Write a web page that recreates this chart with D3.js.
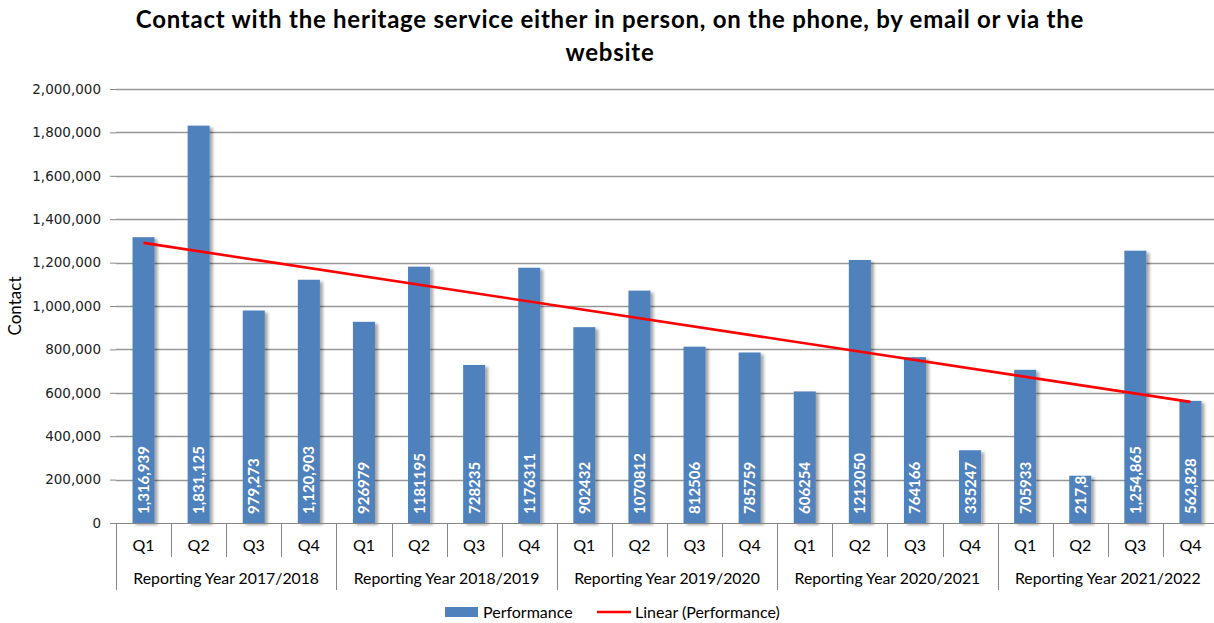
<!DOCTYPE html>
<html>
<head>
<meta charset="utf-8">
<script src="https://cdn.jsdelivr.net/npm/d3@7"></script>
<style>
  html, body { margin: 0; padding: 0; background: #ffffff; }
  svg { display: block; }
</style>
</head>
<body>
<svg id="chart" width="1214" height="623"></svg>
<script>
// Quarterly contact figures, grouped by reporting year
const years = ["Reporting Year 2017/2018", "Reporting Year 2018/2019", "Reporting Year 2019/2020",
               "Reporting Year 2020/2021", "Reporting Year 2021/2022"];
const quarters = ["Q1", "Q2", "Q3", "Q4"];
const performance = [
  1316939, 1831125, 979273, 1120903,
  926979, 1181195, 728235, 1176311,
  902432, 1070812, 812506, 785759,
  606254, 1212050, 764166, 335247,
  705933, 217850, 1254865, 562828
];
// Label text as printed on each bar (some years use thousands separators, some don't)
const barLabels = [
  "1,316,939", "1,831,125", "979,273", "1,120,903",
  "926979", "1181195", "728235", "1176311",
  "902432", "1070812", "812506", "785759",
  "606254", "1212050", "764166", "335247",
  "705933", "217,850", "1,254,865", "562,828"
];
const yTicks = [0, 200000, 400000, 600000, 800000, 1000000, 1200000, 1400000, 1600000, 1800000, 2000000];

const svg = d3.select("#chart");
const labelFont = "Lato, 'Noto Sans', sans-serif";

const margin = { left: 116, right: -4, top: 89, bottom: 100 };
const W = 1214, H = 623;
const x0 = margin.left, x1 = W - margin.right;
const yTop = margin.top, yBase = H - margin.bottom;

const keys = performance.map((d, i) => i);
const x = d3.scaleBand().domain(keys).range([x0, x1]).paddingInner(0.6).paddingOuter(0.3);
const xStep = x.step();
const y = d3.scaleLinear().domain([0, 2000000]).range([yBase, yTop]);

// Drop shadow used by the bars
const defs = svg.append("defs");
const f = defs.append("filter").attr("id", "barShadow")
  .attr("x", "-30%").attr("y", "-10%").attr("width", "180%").attr("height", "130%");
f.append("feDropShadow").attr("dx", 3).attr("dy", 2).attr("stdDeviation", 1.8)
  .attr("flood-color", "#000").attr("flood-opacity", 0.35);

// Title
const titleG = svg.append("g")
  .style("font-family", labelFont).style("font-weight", "bold").style("font-size", "24px")
  .style("letter-spacing", "0.75px").attr("fill", "#000").attr("text-anchor", "middle");
titleG.append("text").attr("x", 610).attr("y", 28)
  .text("Contact with the heritage service either in person, on the phone, by email or via the");
titleG.append("text").attr("x", 610).attr("y", 61)
  .text("website");

// Horizontal gridlines
svg.append("g").selectAll("line").data(yTicks.filter(d => d > 0)).join("line")
  .attr("x1", x0).attr("x2", W)
  .attr("y1", d => Math.round(y(d)) + 0.5).attr("y2", d => Math.round(y(d)) + 0.5)
  .attr("stroke", "#969696").attr("stroke-width", 1.4);

// Value axis
const yAxis = d3.axisLeft(y).tickValues(yTicks).tickSize(6).tickPadding(9)
  .tickFormat(d3.format(","));
const gy = svg.append("g").attr("transform", `translate(${x0},0)`).call(yAxis);
gy.select(".domain").remove();
gy.selectAll(".tick line").attr("stroke", "#868686");
gy.selectAll(".tick text")
  .style("font-family", "'DejaVu Sans', Verdana, sans-serif").style("font-size", "13.5px")
  .attr("fill", "#222");

// Axis title
svg.append("text")
  .attr("transform", `translate(21,${(yTop + yBase) / 2}) rotate(-90)`)
  .attr("text-anchor", "middle")
  .style("font-family", labelFont).style("font-size", "17px")
  .attr("fill", "#000")
  .text("Contact");

// Bars
const bars = svg.append("g");
bars.selectAll("rect").data(performance).join("rect")
  .attr("x", (d, i) => x(i))
  .attr("width", x.bandwidth())
  .attr("y", d => y(d))
  .attr("height", d => yBase - y(d))
  .attr("fill", "#4f81bd")
  .attr("filter", "url(#barShadow)");

// Bar value labels, clipped to each bar
const clips = defs.selectAll("clipPath.bar").data(performance).join("clipPath")
  .attr("class", "bar").attr("id", (d, i) => "clipBar" + i);
clips.append("rect")
  .attr("x", (d, i) => x(i)).attr("width", x.bandwidth())
  .attr("y", d => y(d)).attr("height", d => yBase - y(d));

svg.append("g").selectAll("g").data(performance).join("g")
  .attr("clip-path", (d, i) => `url(#clipBar${i})`)
  .append("text")
  .attr("transform", (d, i) => `translate(${x(i) + x.bandwidth() / 2 + 5.5},${yBase - 9}) rotate(-90)`)
  .attr("text-anchor", "start")
  .style("font-family", labelFont).style("font-weight", "bold").style("font-size", "15px")
  .attr("fill", "#ffffff")
  .text((d, i) => barLabels[i]);

// Linear trend line (least squares over quarter index)
const n = performance.length;
const xs = keys.map(i => i + 1);
const mx = d3.mean(xs), my = d3.mean(performance);
const slope = d3.sum(xs, (v, i) => (v - mx) * (performance[i] - my)) / d3.sum(xs, v => (v - mx) ** 2);
const intercept = my - slope * mx;
const trend = [0, n - 1].map(i => ({ i, v: intercept + slope * (i + 1) }));
svg.append("path")
  .datum(trend)
  .attr("d", d3.line().x(d => x(d.i) + x.bandwidth() / 2).y(d => y(d.v)))
  .attr("fill", "none").attr("stroke", "#ff0000").attr("stroke-width", 2.6);

// Category axis: baseline, quarter separators and year separators
const axisG = svg.append("g").attr("stroke", "#868686").attr("stroke-width", 1);
axisG.append("line")
  .attr("x1", x0).attr("x2", W).attr("y1", yBase + 0.5).attr("y2", yBase + 0.5);
const bounds = d3.range(n + 1);
axisG.selectAll("line.sep").data(bounds).join("line")
  .attr("class", "sep")
  .attr("x1", b => Math.round(x0 + b * xStep) + 0.5)
  .attr("x2", b => Math.round(x0 + b * xStep) + 0.5)
  .attr("y1", yBase)
  .attr("y2", b => (b % 4 === 0) ? yBase + 67 : yBase + 34);

svg.append("g").selectAll("text").data(keys).join("text")
  .attr("x", i => x(i) + x.bandwidth() / 2)
  .attr("y", yBase + 28)
  .attr("text-anchor", "middle")
  .style("font-family", labelFont).style("font-size", "16px")
  .attr("fill", "#000")
  .text(i => quarters[i % 4]);

svg.append("g").selectAll("text").data(years).join("text")
  .attr("x", (d, j) => x0 + (j * 4 + 2) * xStep)
  .attr("y", yBase + 61)
  .attr("text-anchor", "middle")
  .style("font-family", labelFont).style("font-size", "15.8px")
  .attr("fill", "#000")
  .text(d => d);

// Legend
const lg = svg.append("g");
lg.append("rect").attr("x", 445).attr("y", 607).attr("width", 33).attr("height", 10).attr("fill", "#4f81bd");
lg.append("text").attr("x", 483).attr("y", 618)
  .style("font-family", labelFont).style("font-size", "16px").attr("fill", "#000")
  .text("Performance");
lg.append("line").attr("x1", 597).attr("x2", 631).attr("y1", 612).attr("y2", 612)
  .attr("stroke", "#ff0000").attr("stroke-width", 2.6);
lg.append("text").attr("x", 635).attr("y", 618)
  .style("font-family", labelFont).style("font-size", "16px").attr("fill", "#000")
  .text("Linear (Performance)");
</script>
</body>
</html>
